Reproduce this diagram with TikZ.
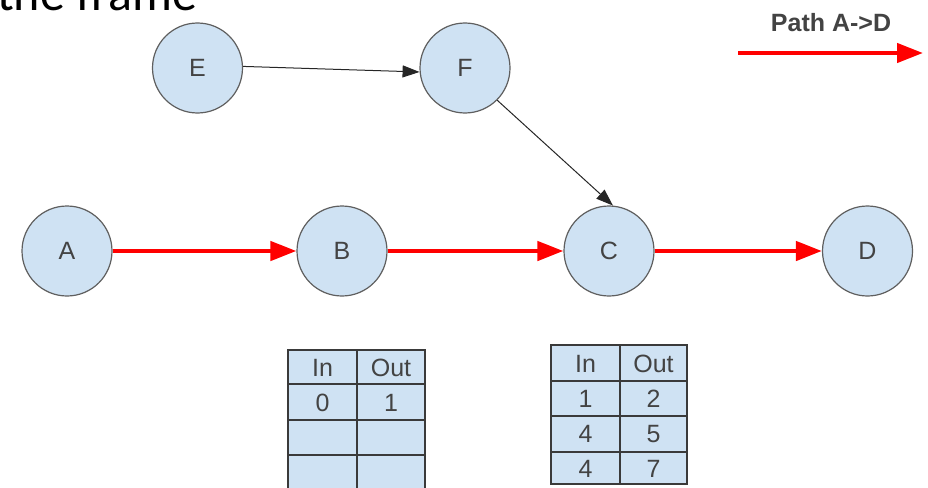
\documentclass[tikz,border=0pt]{standalone}
\usepackage{fontspec}
\setmainfont{Liberation Sans}
\newfontfamily\titlefont{Carlito}
\usetikzlibrary{arrows.meta}
\definecolor{nodefill}{HTML}{CFE2F3}
\definecolor{nodeline}{HTML}{5F5F5F}
\definecolor{txt}{HTML}{434343}
\definecolor{tline}{HTML}{3A3A3A}
\begin{document}
\begin{tikzpicture}[x=1pt,y=-1pt,
 vertex/.style={circle,draw=nodeline,line width=1.2pt,fill=nodefill,minimum size=90pt,inner sep=0pt,text=txt,font=\fontsize{25}{25}\selectfont},
 redarrow/.style={draw=red,line width=4.5pt,-{Triangle[length=26pt,width=19pt]}},
 thinarrow/.style={draw=black!85,line width=1pt,-{Triangle[length=17pt,width=12pt]}},
 cell/.style={text=txt,font=\fontsize{25}{25}\selectfont,inner sep=0pt,anchor=base},
 tbl/.style={draw=tline,line width=1.5pt},
 tblfill/.style={fill=nodefill,draw=tline,line width=1.5pt}]
\useasboundingbox (0,0) rectangle (928,487);
\clip (0,0) rectangle (928,487);
\node[anchor=base west,inner sep=0pt,font=\titlefont\fontsize{50}{50}\selectfont] (title) at (-3,11) {the frame};

% vertices
\node[vertex] (E) at (197.5,68) {E};
\node[vertex] (F) at (465,68) {F};
\node[vertex] (A) at (67,251) {A};
\node[vertex] (B) at (342,251) {B};
\node[vertex] (C) at (609,251) {C};
\node[vertex] (D) at (867.5,251) {D};

% connectors
\draw[thinarrow] (E.2) -- (F.185);
\draw[thinarrow] (F.-45) -- (C.85);
\draw[redarrow] (A) -- (B);
\draw[redarrow] (B) -- (C);
\draw[redarrow] (C) -- (D);

% legend
\node[anchor=base,inner sep=0pt,text=txt,font=\bfseries\fontsize{25}{25}\selectfont] (legend) at (831,32) {Path A->D};
\coordinate (lgs) at (738,53);
\coordinate (lge) at (923,53);
\draw[redarrow] (lgs) -- (lge);

% left table
\path[tblfill] (288,350) rectangle (425,495);
\draw[tbl] (357,350) -- (357,495);
\draw[tbl] (288,384) -- (425,384);
\draw[tbl] (288,420) -- (425,420);
\draw[tbl] (288,455) -- (425,455);
\node[cell] (l11) at (322.5,376) {In};
\node[cell] (l12) at (391,376) {Out};
\node[cell] (l21) at (322.5,411) {0};
\node[cell] (l22) at (391,411) {1};

% right table
\path[tblfill] (551,345) rectangle (687,484);
\draw[tbl] (620,345) -- (620,484);
\draw[tbl] (551,381) -- (687,381);
\draw[tbl] (551,416) -- (687,416);
\draw[tbl] (551,452) -- (687,452);
\node[cell] (r11) at (585.5,372) {In};
\node[cell] (r12) at (653.5,372) {Out};
\node[cell] (r21) at (585.5,407) {1};
\node[cell] (r22) at (653.5,407) {2};
\node[cell] (r31) at (585.5,442.5) {4};
\node[cell] (r32) at (653.5,442.5) {5};
\node[cell] (r41) at (585.5,477.5) {4};
\node[cell] (r42) at (653.5,477.5) {7};
\end{tikzpicture}
\end{document}
